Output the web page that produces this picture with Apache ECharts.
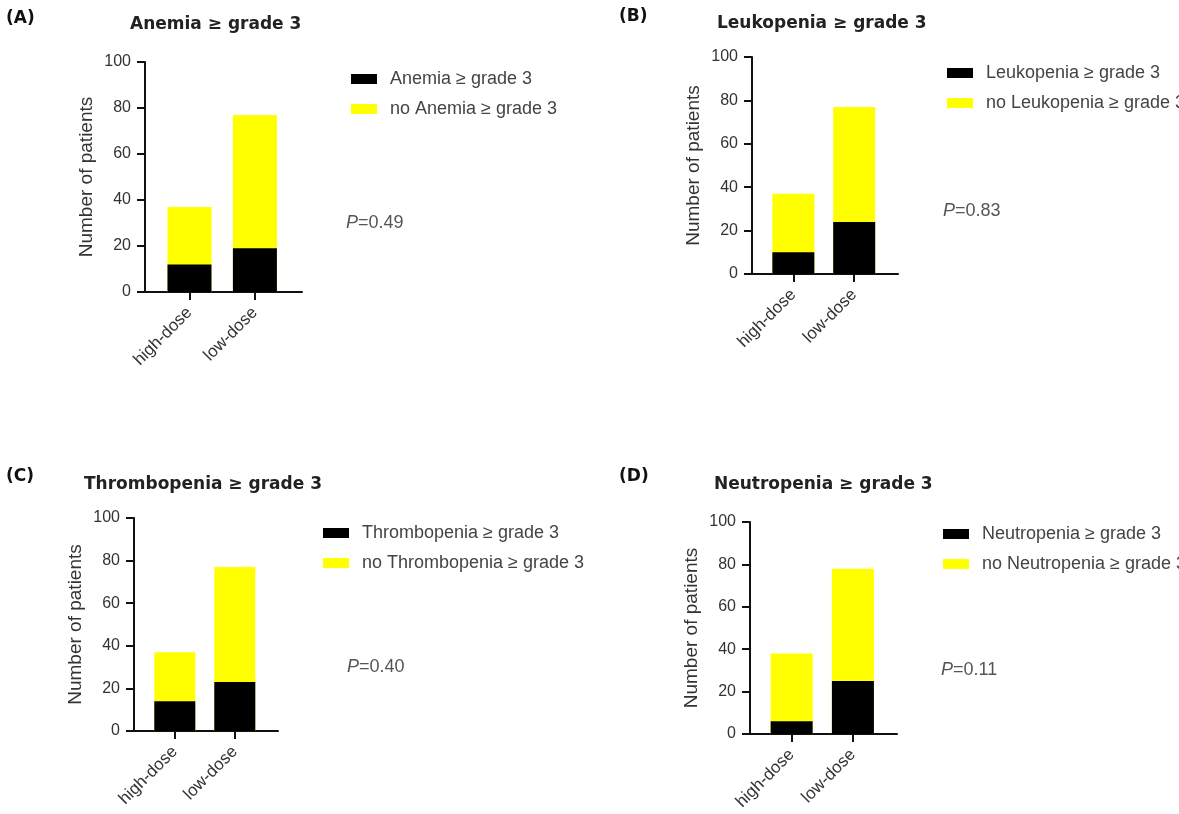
<!DOCTYPE html>
<html>
<head>
<meta charset="utf-8">
<script src="https://cdn.jsdelivr.net/npm/echarts@6/dist/echarts.min.js"></script>
<style>
html, body { margin: 0; background: #fff; }
#main { width: 1179px; height: 814px; }
</style>
</head>
<body>
<div id="main"></div>
<script>
var groups = ['high-dose', 'low-dose'];
var panelTags = ['(A)', '(B)', '(C)', '(D)'];
var events = ['Anemia', 'Leukopenia', 'Thrombopenia', 'Neutropenia'];
var pValues = ['0.49', '0.83', '0.40', '0.11'];
// patients with / without the event >= grade 3, per group
var anemiaYes = [12, 19], anemiaNo = [25, 58];
var leukoYes = [10, 24], leukoNo = [27, 53];
var thromboYes = [14, 23], thromboNo = [23, 54];
var neutroYes = [6, 25], neutroNo = [32, 53];
var yesData = [anemiaYes, leukoYes, thromboYes, neutroYes];
var noData = [anemiaNo, leukoNo, thromboNo, neutroNo];

// layout of each panel (pixels)
var panels = [
  { grid: { left: 145, top: 62, width: 157, height: 230 }, bar: 44, tag: [6, 10], title: [130, 16], legend: [351, 69], p: [346, 214] },
  { grid: { left: 752, top: 57, width: 146, height: 217 }, bar: 42, tag: [619, 8], title: [717, 15], legend: [947, 63], p: [943, 202] },
  { grid: { left: 134, top: 518, width: 144, height: 213 }, bar: 41, tag: [6, 468], title: [84, 476], legend: [323, 523], p: [347, 658] },
  { grid: { left: 750, top: 522, width: 147, height: 212 }, bar: 42, tag: [619, 468], title: [714, 476], legend: [943, 524], p: [941, 661] }
];

var myChart = echarts.init(document.getElementById('main'));

var grid = [], xAxis = [], yAxis = [], series = [], legend = [], title = [];
panels.forEach(function (pn, i) {
  var yesName = events[i] + ' \u2265 grade 3';
  var noName = 'no ' + events[i] + ' \u2265 grade 3';
  grid.push(pn.grid);
  xAxis.push({
    type: 'value',
    gridIndex: i,
    min: 0.32,
    max: 2.72,
    splitLine: { show: false },
    axisLine: { lineStyle: { color: '#111', width: 2 } },
    axisTick: { show: true, length: 8, lineStyle: { color: '#111', width: 2 }, customValues: [1, 2] },
    axisLabel: {
      customValues: [1, 2],
      rotate: 45,
      margin: 18,
      fontSize: 17,
      color: '#333',
      fontFamily: 'Liberation Sans',
      formatter: function (v) { return groups[Math.round(v) - 1]; }
    }
  });
  yAxis.push({
    type: 'value',
    gridIndex: i,
    min: 0,
    max: 100,
    interval: 20,
    name: 'Number of patients',
    nameLocation: 'middle',
    nameGap: 49,
    nameTextStyle: { fontSize: 19, color: '#333', fontFamily: 'Liberation Sans' },
    splitLine: { show: false },
    axisLine: { show: true, lineStyle: { color: '#111', width: 2 } },
    axisTick: { show: true, length: 8, lineStyle: { color: '#111', width: 2 } },
    axisLabel: { margin: 14, fontSize: 16, color: '#333', fontFamily: 'Liberation Sans' }
  });
  // yellow bar = whole group, black bar over its base = patients with the event
  series.push({
    name: noName,
    type: 'bar',
    xAxisIndex: i,
    yAxisIndex: i,
    barWidth: pn.bar,
    barGap: '-100%',
    itemStyle: { color: '#ffff00' },
    data: groups.map(function (g, j) { return [j + 1, yesData[i][j] + noData[i][j]]; })
  });
  series.push({
    name: yesName,
    type: 'bar',
    xAxisIndex: i,
    yAxisIndex: i,
    barWidth: pn.bar,
    barGap: '-100%',
    itemStyle: { color: '#000' },
    data: groups.map(function (g, j) { return [j + 1, yesData[i][j]]; })
  });
  legend.push({
    data: [yesName, noName],
    orient: 'vertical',
    left: pn.legend[0],
    top: pn.legend[1],
    padding: 0,
    icon: 'rect',
    itemWidth: 26,
    itemHeight: 10,
    itemGap: 10,
    selectedMode: false,
    textStyle: { fontSize: 18, color: '#444', fontFamily: 'Liberation Sans', lineHeight: 20, padding: [0, 0, 0, 8] }
  });
  title.push({
    text: panelTags[i],
    left: pn.tag[0],
    top: pn.tag[1],
    padding: 0,
    textStyle: { fontSize: 17, fontWeight: 'bold', color: '#111', fontFamily: 'DejaVu Sans' }
  });
  title.push({
    text: events[i] + ' \u2265 grade 3',
    left: pn.title[0],
    top: pn.title[1],
    padding: 0,
    textStyle: { fontSize: 17, fontWeight: 'bold', color: '#222', fontFamily: 'DejaVu Sans' }
  });
  title.push({
    text: '{i|P}=' + pValues[i],
    left: pn.p[0],
    top: pn.p[1],
    padding: 0,
    textStyle: {
      fontSize: 18, fontWeight: 'normal', color: '#555', fontFamily: 'Liberation Sans',
      rich: { i: { fontStyle: 'italic', fontSize: 18, color: '#555', fontFamily: 'Liberation Sans' } }
    }
  });
});

var option = {
  backgroundColor: '#fff',
  animation: false,
  title: title,
  legend: legend,
  grid: grid,
  xAxis: xAxis,
  yAxis: yAxis,
  series: series
};
myChart.setOption(option);
window.addEventListener('resize', function () {
  myChart.resize();
});
</script>
</body>
</html>
